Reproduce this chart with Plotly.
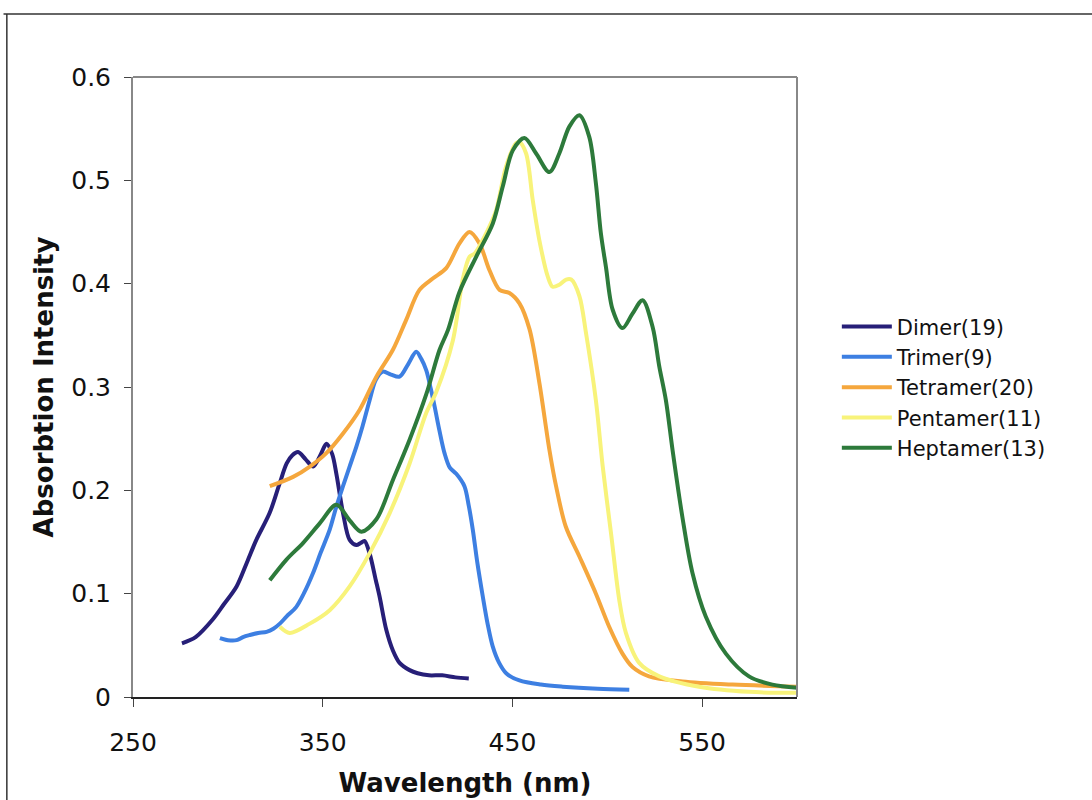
import plotly.graph_objects as go

# Wavelength (nm) / absorption values
dimer_x = [275.8, 283, 292, 298, 304.6, 310, 315, 322, 327, 331, 334, 337, 341, 345, 349, 352, 355, 357.2, 360.7, 364.2, 367.7, 370, 372, 374.7, 378, 380, 383.5, 387, 390.5, 395.8, 400, 406, 413, 420, 427]
dimer_y = [0.052, 0.058, 0.075, 0.090, 0.107, 0.130, 0.152, 0.178, 0.205, 0.226, 0.234, 0.237, 0.230, 0.223, 0.235, 0.245, 0.235, 0.216, 0.178, 0.152, 0.147, 0.149, 0.151, 0.139, 0.113, 0.097, 0.065, 0.045, 0.033, 0.026, 0.023, 0.021, 0.021, 0.019, 0.018]

trimer_x = [295.8, 300, 304.6, 308, 311.6, 316, 320.4, 324, 327.4, 331, 336, 340, 344.9, 349, 353.7, 357, 360.7, 364, 367.7, 371, 374.7, 378, 381.7, 386, 390.5, 395, 399.3, 402, 404.6, 407, 409, 411.5, 414.2, 417, 420.4, 424.7, 427, 429.1, 431.5, 434.4, 437, 439.6, 443, 446.7, 453.7, 465, 476.5, 495, 511.6]
trimer_y = [0.057, 0.055, 0.055, 0.058, 0.060, 0.062, 0.063, 0.066, 0.071, 0.078, 0.087, 0.100, 0.120, 0.140, 0.162, 0.183, 0.204, 0.222, 0.242, 0.262, 0.287, 0.307, 0.315, 0.312, 0.310, 0.322, 0.334, 0.327, 0.316, 0.298, 0.281, 0.258, 0.236, 0.222, 0.216, 0.204, 0.185, 0.162, 0.130, 0.097, 0.070, 0.049, 0.033, 0.023, 0.016, 0.012, 0.010, 0.008, 0.007]

tetramer_x = [322.1, 334.4, 343.2, 351.9, 360.7, 369.5, 378.3, 387, 394, 401, 408, 415.1, 422.1, 427.4, 432.6, 437.9, 443.2, 448.4, 453.7, 459, 464.2, 469.5, 473, 478.1, 485.3, 494, 501, 508, 513.3, 522, 539.6, 566, 600]
tetramer_y = [0.204, 0.213, 0.223, 0.236, 0.255, 0.278, 0.310, 0.336, 0.365, 0.394, 0.405, 0.415, 0.439, 0.450, 0.439, 0.413, 0.394, 0.391, 0.381, 0.356, 0.304, 0.239, 0.204, 0.165, 0.136, 0.100, 0.068, 0.042, 0.029, 0.020, 0.015, 0.012, 0.010]

pentamer_x = [327.4, 332.6, 343.2, 353.7, 364.2, 374.7, 385.3, 395.8, 404.6, 409.8, 418.6, 423.8, 427.4, 430, 436.2, 441.4, 446.6, 451.9, 453.7, 457.2, 460.7, 464.2, 468.6, 471.2, 474.7, 478.3, 481, 485.3, 488.8, 494, 497.6, 502, 506.3, 509.8, 516.8, 527.4, 548.4, 574.7, 600]
pentamer_y = [0.068, 0.062, 0.071, 0.084, 0.107, 0.139, 0.178, 0.226, 0.275, 0.295, 0.345, 0.404, 0.426, 0.429, 0.449, 0.471, 0.513, 0.536, 0.537, 0.526, 0.481, 0.442, 0.407, 0.397, 0.399, 0.404, 0.404, 0.388, 0.352, 0.287, 0.223, 0.158, 0.094, 0.062, 0.033, 0.020, 0.010, 0.005, 0.004]

heptamer_x = [322.1, 330.9, 339.6, 348.4, 357.2, 364.2, 370.4, 378.3, 387, 395.8, 404.6, 411.6, 416, 422.1, 430.9, 439.6, 444.9, 450.2, 456.3, 462.5, 469.5, 474.7, 480, 485.3, 490.5, 494, 496.6, 499.3, 502.8, 508, 513.3, 518.6, 523.9, 527.4, 530.9, 534.4, 539.6, 544.9, 551.9, 562.5, 574.7, 587, 600]
heptamer_y = [0.113, 0.133, 0.149, 0.168, 0.186, 0.171, 0.160, 0.172, 0.210, 0.249, 0.293, 0.336, 0.355, 0.392, 0.426, 0.458, 0.494, 0.529, 0.541, 0.526, 0.508, 0.526, 0.552, 0.563, 0.542, 0.497, 0.449, 0.416, 0.375, 0.357, 0.371, 0.384, 0.358, 0.320, 0.287, 0.239, 0.174, 0.120, 0.078, 0.042, 0.020, 0.012, 0.009]

series_names = ["Dimer(19)", "Trimer(9)", "Tetramer(20)", "Pentamer(11)", "Heptamer(13)"]
series_x = [dimer_x, trimer_x, tetramer_x, pentamer_x, heptamer_x]
series_y = [dimer_y, trimer_y, tetramer_y, pentamer_y, heptamer_y]
series_colors = ["#271f78", "#3d7fe2", "#f5a73d", "#f8f37a", "#2d7a3b"]

x_ticks = [250, 350, 450, 550]
y_ticks = [0, 0.1, 0.2, 0.3, 0.4, 0.5, 0.6]
y_tick_text = ["0", "0.1", "0.2", "0.3", "0.4", "0.5", "0.6"]

fig = go.Figure()
for name, xs, ys, col in zip(series_names, series_x, series_y, series_colors):
    fig.add_trace(go.Scatter(x=xs, y=ys, mode="lines", name=name,
                             line=dict(color=col, width=4, shape="spline", smoothing=0.9)))

font_family = "DejaVu Sans, Verdana, sans-serif"

fig.update_layout(
    width=1092, height=800,
    margin=dict(l=133, r=295, t=77, b=103, autoexpand=False),
    paper_bgcolor="white", plot_bgcolor="white",
    font=dict(family=font_family, size=20, color="#111111"),
    showlegend=True,
    legend=dict(x=1.06, y=0.63, xanchor="left", yanchor="top",
                font=dict(size=21, color="#111111"),
                bgcolor="rgba(0,0,0,0)", tracegroupgap=0, itemwidth=50),
    xaxis=dict(range=[250, 600], tickvals=x_ticks, showgrid=False, zeroline=False,
               showline=True, linecolor="#222222", linewidth=2, mirror=False,
               ticks="outside", ticklen=8, tickcolor="#444444", automargin=False,
               tickfont=dict(size=25), ticklabelstandoff=14,
               title=dict(text="<b>Wavelength (nm)</b>", font=dict(size=26), standoff=18)),
    yaxis=dict(range=[0, 0.6], tickvals=y_ticks, ticktext=y_tick_text, showgrid=False, zeroline=False,
               showline=True, linecolor="#888888", linewidth=2, mirror=False,
               ticks="outside", ticklen=7, tickcolor="#444444", automargin=False,
               tickfont=dict(size=25), ticklabelstandoff=8,
               title=dict(text="<b>Absorbtion Intensity</b>", font=dict(size=26), standoff=10)),
    shapes=[
        # grey plot-area frame (top and right)
        dict(type="line", xref="paper", yref="paper", x0=0, x1=1, y0=1, y1=1,
             line=dict(color="#888888", width=2)),
        dict(type="line", xref="paper", yref="paper", x0=1, x1=1, y0=0, y1=1,
             line=dict(color="#888888", width=2)),
        # outer frame lines of the picture
        dict(type="line", xref="paper", yref="paper", x0=-0.195, x1=1.45, y0=1.1016, y1=1.1016,
             line=dict(color="#333333", width=1.5)),
        dict(type="line", xref="paper", yref="paper", x0=-0.19, x1=-0.19, y0=-0.2, y1=1.1016,
             line=dict(color="#333333", width=1.5)),
    ],
)

fig.write_html("out.html")
